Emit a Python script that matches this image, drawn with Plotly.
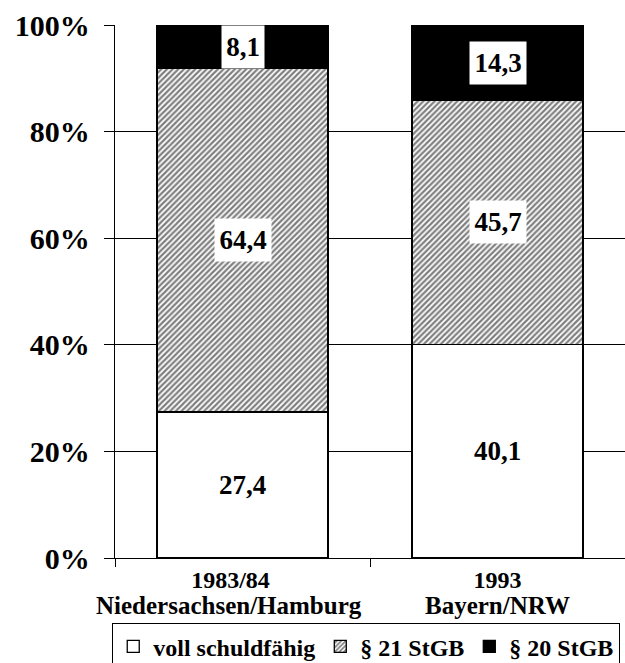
import plotly.graph_objects as go

years = ["1983/84", "1993"]
regions = ["Niedersachsen/Hamburg", "Bayern/NRW"]
voll = [27.4, 40.1]
p21 = [64.4, 45.7]
p20 = [8.1, 14.3]
labels_voll = ["27,4", "40,1"]
labels_p21 = ["64,4", "45,7"]
labels_p20 = ["8,1", "14,3"]
y_ticks = [0, 20, 40, 60, 80, 100]
series_names = ["voll schuldfähig", "§ 21 StGB", "§ 20 StGB"]

FONT = "Liberation Serif, Times New Roman, serif"
LW = 1.3
label_shift = [-14, 0]  # the first category's caption sits slightly left of centre

fig = go.Figure()
fig.add_trace(go.Bar(x=regions, y=voll, name=f"<b>{series_names[0]}</b>",
                     marker=dict(color="white", line=dict(color="black", width=LW))))
fig.add_trace(go.Bar(x=regions, y=p21, name=f"<b>{series_names[1]}</b>",
                     marker=dict(color="white", line=dict(color="black", width=LW),
                                 pattern=dict(shape="/", fgcolor="black", bgcolor="white",
                                              size=4, solidity=0.55, fillmode="overlay"))))
fig.add_trace(go.Bar(x=regions, y=p20, name=f"<b>{series_names[2]}</b>",
                     marker=dict(color="black", line=dict(color="black", width=LW))))

ann = []
for i, c in enumerate(regions):
    ann.append(dict(x=c, y=voll[i] / 2, text=f"<b>{labels_voll[i]}</b>", showarrow=False,
                    font=dict(size=27, family=FONT, color="black")))
    ann.append(dict(x=c, y=voll[i] + p21[i] / 2, text=f"<b>{labels_p21[i]}</b>", showarrow=False,
                    bgcolor="white", borderpad=0, height=42, width=14 * len(labels_p21[i]),
                    font=dict(size=27, family=FONT, color="black")))
    ann.append(dict(x=c, y=min(100, voll[i] + p21[i] + p20[i] / 2), text=f"<b>{labels_p20[i]}</b>",
                    showarrow=False, bgcolor="white", borderpad=0, height=42,
                    width=14 * len(labels_p20[i]),
                    font=dict(size=27, family=FONT, color="black")))
    ann.append(dict(x=c, xref="x", y=-0.09, yref="paper", yanchor="middle",
                    xshift=label_shift[i],
                    text=f"<b>{regions[i]}</b>", showarrow=False,
                    font=dict(size=25, family=FONT, color="black")))

tick_text = [f"<b>{y}</b>" + "\u00a0" * (abs(s) // 3) for y, s in zip(years, label_shift)]

fig.update_layout(
    barmode="stack",
    bargap=0.33,
    width=625, height=663,
    margin=dict(l=115, r=0, t=25, b=105, autoexpand=False),
    paper_bgcolor="white", plot_bgcolor="white",
    font=dict(family=FONT, color="black", size=22),
    annotations=ann,
    legend=dict(orientation="h", x=-0.006, y=-0.122, xanchor="left", yanchor="top",
                bordercolor="black", borderwidth=LW, font=dict(size=24, family=FONT),
                traceorder="normal", itemwidth=30, bgcolor="white"),
    xaxis=dict(type="category", tickvals=regions, ticktext=tick_text, range=[-0.5, 1.5],
               autorange=False,
               showline=True, linecolor="black", linewidth=LW, ticks="outside",
               tickson="boundaries", ticklen=8, tickcolor="black", tickwidth=LW,
               tickfont=dict(size=24, family=FONT), automargin=False),
    yaxis=dict(range=[0, 100], tickvals=y_ticks, ticktext=[f"<b>{v}%</b>" for v in y_ticks],
               showline=True, linecolor="black", linewidth=LW, ticks="outside", ticklen=10,
               tickcolor="black", tickwidth=LW, showgrid=True, gridcolor="black", gridwidth=LW,
               tickfont=dict(size=30, family=FONT), zeroline=False, automargin=False,
               ticklabelstandoff=8),
)

fig.write_html("out.html", config={"displayModeBar": False},
               post_script="document.body.style.margin='0';document.body.style.overflow='hidden';")
